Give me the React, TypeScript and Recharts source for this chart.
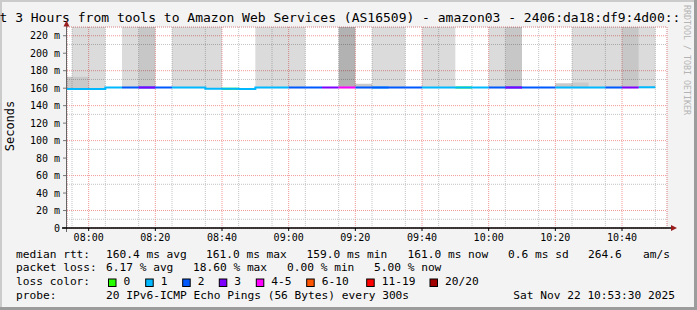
import { ComposedChart, Area, Line, XAxis, YAxis, CartesianGrid } from 'recharts'

// 5 minute steps, the last slot only closes the final step
const slots = [
  '07:50', '07:55', '08:00', '08:05', '08:10', '08:15', '08:20', '08:25', '08:30',
  '08:35', '08:40', '08:45', '08:50', '08:55', '09:00', '09:05', '09:10', '09:15',
  '09:20', '09:25', '09:30', '09:35', '09:40', '09:45', '09:50', '09:55', '10:00',
  '10:05', '10:10', '10:15', '10:20', '10:25', '10:30', '10:35', '10:40', '10:45',
  '10:50',
]
const medianMs = [
  159.0, 159.0, 159.0, 160.8, 160.8, 160.8, 160.8, 160.8, 160.8,
  159.2, 159.2, 159.0, 160.8, 160.8, 160.8, 160.8, 160.8, 160.8,
  160.8, 160.8, 160.8, 160.8, 160.8, 160.8, 160.8, 160.8, 160.8,
  160.8, 160.8, 160.8, 160.8, 160.8, 160.8, 160.8, 160.8, 161.0,
]
// index into lossColors
const lossBucket = [
  1, 1, 1, 1, 2, 3, 2, 1, 1,
  1, 0, 1, 1, 1, 2, 2, 3, 4,
  2, 1, 2, 2, 1, 1, 0, 1, 2,
  3, 2, 2, 1, 1, 1, 2, 3, 1,
]
// smoke above the median: 0 none, 1 light, 2 medium, 3 dark (runs off the top)
const smokeShade = [
  0, 1, 1, 0, 1, 2, 0, 1, 1,
  1, 0, 0, 1, 1, 1, 0, 0, 3,
  0, 1, 1, 0, 1, 1, 0, 0, 1,
  2, 0, 0, 0, 1, 1, 1, 2, 1,
]
// dense lower part of the smoke (ms), null where there is none
const denseTop = [
  173, 173, null, null, null, null, null, null, null,
  null, null, null, null, null, null, null, null, null,
  165, null, null, null, null, null, null, null, null,
  null, null, null, 165.6, 166.5, null, null, null, null,
]
const smokeBase = 160
const smokeCeil = 230

const lossColors = ['#26ff00', '#00b8ff', '#0059ff', '#7e00ff', '#ff00ff', '#ff5500', '#ff0000', '#a10000']
const lossLabels = ['0', '1', '2', '3', '4-5', '6-10', '11-19', '20/20']
const shadeFills = ['', 'rgba(0,0,0,0.14)', 'rgba(0,0,0,0.22)', 'rgba(0,0,0,0.30)']

const yMajor = [0, 20, 40, 60, 80, 100, 120, 140, 160, 180, 200, 220]
const yMinor = [10, 30, 50, 70, 90, 110, 130, 150, 170, 190, 210]
const xMajor = ['08:00', '08:20', '08:40', '09:00', '09:20', '09:40', '10:00', '10:20', '10:40']
const xMinor = [
  '07:55', '08:05', '08:10', '08:15', '08:25', '08:30', '08:35', '08:45', '08:50', '08:55',
  '09:05', '09:10', '09:15', '09:25', '09:30', '09:35', '09:45', '09:50', '09:55',
  '10:05', '10:10', '10:15', '10:25', '10:30', '10:35', '10:45', '10:50',
]
const rangeStart = 473.5 // 07:53:30
const rangeEnd = 653.5 // 10:53:30

const title = 'Last 3 Hours from tools to Amazon Web Services (AS16509) - amazon03 - 2406:da18:df9:4d00::'
const rttStats = ['160.4 ms avg', '161.0 ms max', '159.0 ms min', '161.0 ms now', '0.6 ms sd', '264.6', 'am/s']
const lossStats = ['6.17 % avg', '18.60 % max', '0.00 % min', '5.00 % now']
const probeText = '20 IPv6-ICMP Echo Pings (56 Bytes) every 300s'
const stamp = 'Sat Nov 22 10:53:30 2025'

const toMin = (s: string) => {
  const [h, m] = s.split(':').map(Number)
  return h * 60 + m
}
const fmt = (v: number) =>
  `${String(Math.floor(v / 60)).padStart(2, '0')}:${String(v % 60).padStart(2, '0')}`

const rows = slots.map((s, k) => {
  const c = Math.min(k, medianMs.length - 1)
  const dense = denseTop[c] ?? smokeBase
  const row: Record<string, any> = { t: toMin(s), dense: [smokeBase, dense] }
  for (let sh = 1; sh <= 3; sh++) {
    row[`smoke${sh}`] = [dense, smokeShade[c] === sh ? smokeCeil : dense]
  }
  lossColors.forEach((_, b) => {
    let v: number | null = null
    if (k < medianMs.length) {
      if (lossBucket[k] === b) v = medianMs[k]
      else if (k > 0 && lossBucket[k - 1] === b) v = medianMs[k - 1]
    } else if (lossBucket[c] === b) v = medianMs[c]
    row[`l${b}`] = v
  })
  return row
})

const mono = 'DejaVu Sans Mono'
const tickStyle = { fontSize: 10, fontFamily: mono, fill: '#000' }
const legendX = [106, 206, 306.5, 407.5, 508, 588, 643]
const lossX = [106, 193, 287, 374]
const boxX = [108.5, 145.7, 182.7, 219.3, 256.3, 306.7, 366.7, 430]

export default function App() {
  return (
    <div style={{ position: 'absolute', left: 0, top: 0, width: 697, height: 310, background: '#f3f3f3', overflow: 'hidden' }}>
      <div style={{ position: 'absolute', left: 0, top: 0 }}>
        <ComposedChart width={697} height={310} data={rows} margin={{ top: 27, right: 30, bottom: 62, left: 0 }}>
          <XAxis xAxisId="minor" type="number" dataKey="t" domain={[rangeStart, rangeEnd]} allowDataOverflow ticks={xMinor.map(toMin)} hide />
          <YAxis yAxisId="minor" type="number" domain={[0, smokeCeil]} allowDataOverflow ticks={yMinor} hide />
          <CartesianGrid xAxisId="minor" yAxisId="minor" fill="#fff" stroke="#c4c4c4" strokeDasharray="1 1" />
          <CartesianGrid stroke="#f29a9a" strokeDasharray="1 1" />
          <XAxis
            type="number"
            dataKey="t"
            domain={[rangeStart, rangeEnd]}
            allowDataOverflow
            ticks={xMajor.map(toMin)}
            tickFormatter={fmt}
            height={20}
            tick={tickStyle}
            tickSize={3}
            tickMargin={3}
            axisLine={false}
            tickLine={{ stroke: '#000' }}
          />
          <YAxis
            type="number"
            domain={[0, smokeCeil]}
            allowDataOverflow
            ticks={yMajor}
            tickFormatter={(v: number) => (v === 0 ? '0' : `${v} m`)}
            width={67}
            tick={tickStyle}
            tickSize={4}
            tickMargin={3}
            axisLine={false}
            tickLine={{ stroke: '#777' }}
          />
          <Area type="stepAfter" dataKey="dense" stroke="none" fill="rgba(0,0,0,0.21)" fillOpacity={1} isAnimationActive={false} />
          {[1, 2, 3].map((sh) => (
            <Area
              key={sh}
              type="stepAfter"
              dataKey={`smoke${sh}`}
              stroke="none"
              fill={shadeFills[sh]}
              fillOpacity={1}
              isAnimationActive={false}
            />
          ))}
          {lossColors.map((col, b) => (
            <Line
              key={b}
              type="stepAfter"
              dataKey={`l${b}`}
              stroke={col}
              strokeWidth={2}
              dot={false}
              activeDot={false}
              connectNulls={false}
              isAnimationActive={false}
            />
          ))}
        </ComposedChart>
      </div>
      <svg width={697} height={310} style={{ position: 'absolute', left: 0, top: 0, pointerEvents: 'none' }} fontFamily={mono}>
        <rect x={0} y={0} width={697} height={2} fill="#cbcbcb" />
        <rect x={0} y={0} width={2} height={310} fill="#cbcbcb" />
        <rect x={0} y={307} width={697} height={3} fill="#9c9c9c" />
        <rect x={694} y={0} width={3} height={310} fill="#9c9c9c" />
        <text x={-24} y={22} fontSize={13} fill="#000">{title}</text>
        <text x={687} y={5} fontSize={8.3} fill="#b4b4b4" transform="rotate(90 687 5)" dy="0.35em">RRDTOOL / TOBI OETIKER</text>
        <text x={10} y={126} fontSize={12} fill="#000" textAnchor="middle" transform="rotate(-90 10 126)" dy="0.35em">Seconds</text>
        <line x1={66.5} y1={232} x2={66.5} y2={24} stroke="#666" strokeWidth={1} />
        <polygon points="63.5,26.5 69.5,26.5 66.5,20.5" fill="#9b1c1c" />
        <line x1={62} y1={228} x2={672} y2={228} stroke="#000" strokeWidth={1.5} />
        <polygon points="671,225 671,231 677,228" fill="#9b1c1c" />
        <g fontSize={11.2} fill="#000">
          <text x={16} y={257.5}>median rtt:</text>
          {rttStats.map((s, i) => (
            <text key={i} x={legendX[i]} y={257.5}>{s}</text>
          ))}
          <text x={16} y={271.3}>packet loss:</text>
          {lossStats.map((s, i) => (
            <text key={i} x={lossX[i]} y={271.3}>{s}</text>
          ))}
          <text x={16} y={285}>loss color:</text>
          {lossLabels.map((s, i) => (
            <g key={i}>
              <rect x={boxX[i]} y={279} width={7.5} height={7.5} fill={lossColors[i]} stroke="#000" strokeWidth={1} />
              <text x={boxX[i] + 15} y={285}>{s}</text>
            </g>
          ))}
          <text x={16} y={298.7}>probe:</text>
          <text x={106} y={298.7}>{probeText}</text>
          <text x={513.3} y={298.7}>{stamp}</text>
        </g>
      </svg>
    </div>
  )
}
